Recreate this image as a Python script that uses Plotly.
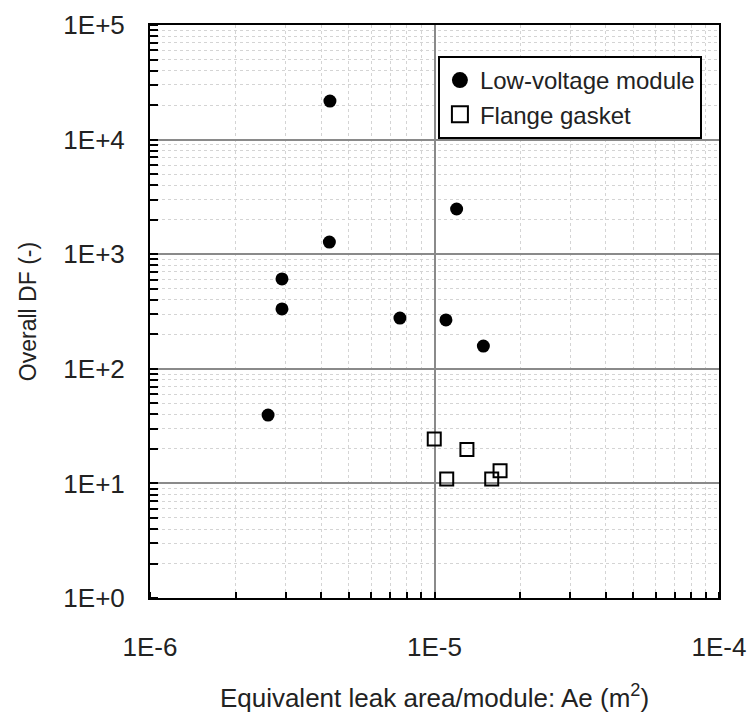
import plotly.graph_objects as go

# Low-voltage module (filled circles)
lv_area = [4.29e-6, 4.27e-6, 2.91e-6, 2.91e-6, 1.196e-5, 7.56e-6, 1.097e-5, 1.485e-5, 2.6e-6]
lv_df = [21700, 1277, 608, 333, 2479, 277, 267, 158, 39.5]

# Flange gasket (open squares)
fg_area = [9.98e-6, 1.30e-5, 1.104e-5, 1.589e-5, 1.70e-5]
fg_df = [24.4, 19.8, 10.9, 10.9, 12.9]

x_ticks = [1e-6, 1e-5, 1e-4]
x_labels = ["1E-6", "1E-5", "1E-4"]
y_ticks = [1, 10, 100, 1000, 10000, 100000]
y_labels = ["1E+0", "1E+1", "1E+2", "1E+3", "1E+4", "1E+5"]

FONT = "Liberation Sans, Arial, sans-serif"

fig = go.Figure()
fig.add_trace(go.Scatter(
    x=lv_area, y=lv_df, mode="markers", showlegend=False,
    marker=dict(symbol="circle", size=13, color="black"),
))
fig.add_trace(go.Scatter(
    x=fg_area, y=fg_df, mode="markers", showlegend=False,
    marker=dict(symbol="square-open", size=13, color="black", line=dict(width=2, color="black")),
))
# legend entries
fig.add_trace(go.Scatter(
    x=[None], y=[None], mode="markers", name="Low-voltage module",
    marker=dict(symbol="circle", size=16, color="black"),
))
fig.add_trace(go.Scatter(
    x=[None], y=[None], mode="markers", name="Flange gasket",
    marker=dict(symbol="square-open", size=16, color="black", line=dict(width=2, color="black")),
))

axis_common = dict(
    type="log",
    showline=True, linecolor="black", linewidth=2, mirror=True,
    showgrid=True, gridcolor="#8a8a8a", gridwidth=2,
    zeroline=False, automargin=False,
    tickfont=dict(family=FONT, size=26, color="#222"),
    ticks="",
)

fig.update_xaxes(
    **axis_common,
    range=[-6, -4],
    tickvals=x_ticks, ticktext=x_labels,
    ticklabelstandoff=25,
    minor=dict(ticks="inside", ticklen=6, tickcolor="black", tickwidth=2, dtick="D1",
               showgrid=True, gridcolor="#d4d4d4", griddash="dot", gridwidth=1),
    title=dict(text="Equivalent leak area/module: Ae (m<sup>2</sup>)",
               font=dict(family=FONT, size=26, color="#222"), standoff=28),
)
fig.update_yaxes(
    **axis_common,
    range=[0, 5],
    tickvals=y_ticks, ticktext=y_labels,
    ticklabelstandoff=18,
    minor=dict(ticks="inside", ticklen=8, tickcolor="black", tickwidth=2, dtick="D1",
               showgrid=True, gridcolor="#d4d4d4", griddash="dot", gridwidth=1),
    title=dict(text="Overall DF (-)", font=dict(family=FONT, size=23, color="#222"), standoff=20),
)

fig.update_layout(
    width=747, height=725,
    margin=dict(l=150, r=28, t=25, b=127),
    paper_bgcolor="white", plot_bgcolor="white",
    font=dict(family=FONT, color="#222"),
    legend=dict(
        x=0.506, y=0.946, xanchor="left", yanchor="top",
        bgcolor="white", bordercolor="black", borderwidth=2,
        font=dict(family=FONT, size=24, color="#222"),
    ),
)

fig.write_html("out.html")
